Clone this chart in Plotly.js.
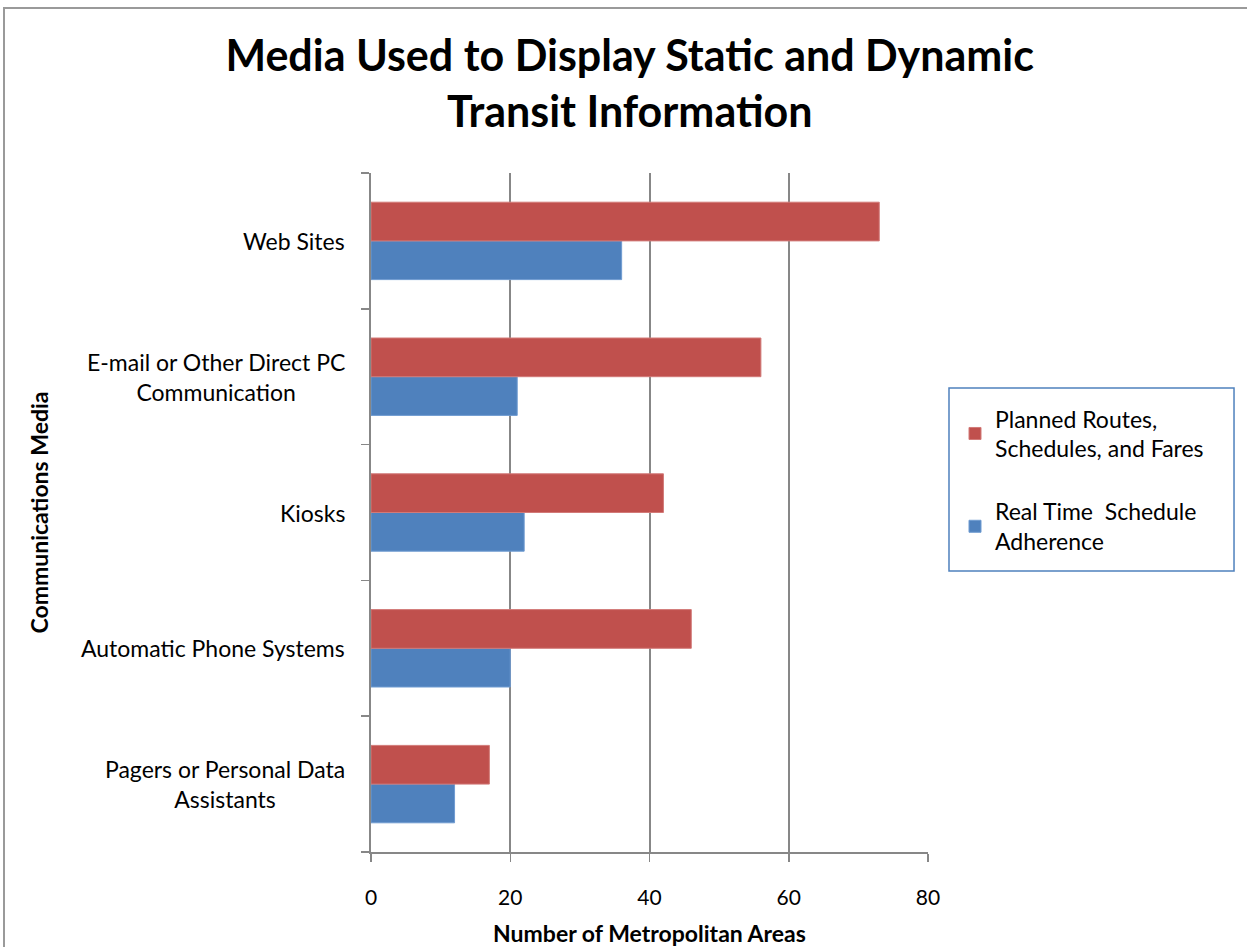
<!DOCTYPE html>
<html>
<head>
<meta charset="utf-8">
<script src="https://cdn.plot.ly/plotly-3.0.1.min.js"></script>
<style>
  html, body { margin: 0; padding: 0; background: #ffffff; }
  #frame { position: absolute; left: 3px; top: 7px; width: 1300px; height: 1000px;
           border-left: 2px solid #9a9a9a; border-top: 2px solid #9a9a9a; }
  #chart { position: absolute; left: 0; top: 0; width: 1247px; height: 947px; }
</style>
</head>
<body>
<div id="frame"></div>
<div id="chart"></div>
<script>
// Media categories, listed bottom to top as drawn on the axis
const categories = [
  "Pagers or Personal Data<br>Assistants",
  "Automatic Phone Systems",
  "Kiosks",
  "E-mail or Other Direct PC<br>Communication",
  "Web Sites"
];
const plannedValues  = [17, 46, 42, 56, 73];
const realTimeValues = [12, 20, 22, 21, 36];
const seriesNames = [
  "Planned Routes,<br>Schedules, and Fares",
  "Real Time  Schedule<br>Adherence"
];
const xTicks = [0, 20, 40, 60, 80];

const FONT = "Lato, 'Open Sans', sans-serif";

const traces = [
  {
    type: "bar", orientation: "h",
    name: seriesNames[1], legendgroup: "b", legendrank: 2,
    y: categories, x: realTimeValues,
    marker: { color: "#4F81BD", line: { color: "#6f9bd1", width: 1 } },
    hoverinfo: "x"
  },
  {
    type: "bar", orientation: "h",
    name: seriesNames[0], legendgroup: "a", legendrank: 1,
    y: categories, x: plannedValues,
    marker: { color: "#C0504D", line: { color: "#d27a78", width: 1 } },
    hoverinfo: "x"
  }
];

// Category labels: right-aligned block, centred lines
const annotations = categories.map(c => ({
  xref: "paper", yref: "y", x: -0.043, y: c,
  text: c, showarrow: false, xanchor: "right", yanchor: "middle",
  align: "center", font: { family: FONT, size: 23, color: "#000" }
}));

// Legend frame (paper coordinates of the plot area)
const legendBox = {
  type: "rect", xref: "paper", yref: "paper", layer: "below",
  x0: 1.0377, x1: 1.5494, y0: 0.4139, y1: 0.6834,
  line: { color: "#4F81BD", width: 1.5 }, fillcolor: "#ffffff"
};

const layout = {
  width: 1247, height: 947,
  paper_bgcolor: "rgba(0,0,0,0)", plot_bgcolor: "#ffffff",
  margin: { l: 371, r: 319, t: 173, b: 95 },
  barmode: "group", bargap: 0.43, bargroupgap: 0,
  font: { family: FONT, color: "#000" },
  title: {
    text: "<b>Media Used to Display Static and Dynamic<br>Transit Information</b>",
    font: { family: FONT, size: 43, color: "#000" },
    x: 0.505, xanchor: "center", y: 0.925, yanchor: "top"
  },
  xaxis: {
    range: [0, 80], tickvals: xTicks, ticktext: xTicks.map(String),
    showgrid: true, gridcolor: "#878787", gridwidth: 2,
    zeroline: false, showline: true, linecolor: "#878787", linewidth: 2,
    ticks: "outside", ticklen: 8, tickwidth: 1.5, tickcolor: "#878787",
    ticklabelstandoff: 18,
    tickfont: { family: FONT, size: 21, color: "#000" },
    title: { text: "<b>Number of Metropolitan Areas</b>",
             font: { family: FONT, size: 23, color: "#000" }, standoff: 20 },
    fixedrange: true
  },
  yaxis: {
    type: "category", categoryorder: "array", categoryarray: categories,
    showticklabels: false, showgrid: false, zeroline: false,
    showline: true, linecolor: "#878787", linewidth: 2,
    ticks: "outside", tickson: "boundaries", ticklen: 8, tickwidth: 1.5, tickcolor: "#878787",
    title: { text: "<b>Communications Media</b>",
             font: { family: FONT, size: 23, color: "#000" }, standoff: 0 },
    fixedrange: true
  },
  annotations: annotations,
  shapes: [legendBox],
  showlegend: true,
  legend: {
    x: 1.0485, xanchor: "left", y: 0.670, yanchor: "top",
    traceorder: "grouped", tracegroupgap: 30,
    bgcolor: "rgba(0,0,0,0)", borderwidth: 0,
    font: { family: FONT, size: 23, color: "#000" },
    itemwidth: 30
  }
};

Plotly.newPlot("chart", traces, layout, { displayModeBar: false, staticPlot: true }).then(() => {
  // Place the y-axis title at its fixed distance from the page edge
  const yt = document.querySelector(".ytitle");
  if (yt) {
    const cy = 173 + 679 / 2;
    yt.setAttribute("x", 48);
    yt.setAttribute("y", cy);
    yt.setAttribute("transform", "rotate(-90," + 48 + "," + cy + ")");
  }
});
</script>
</body>
</html>
